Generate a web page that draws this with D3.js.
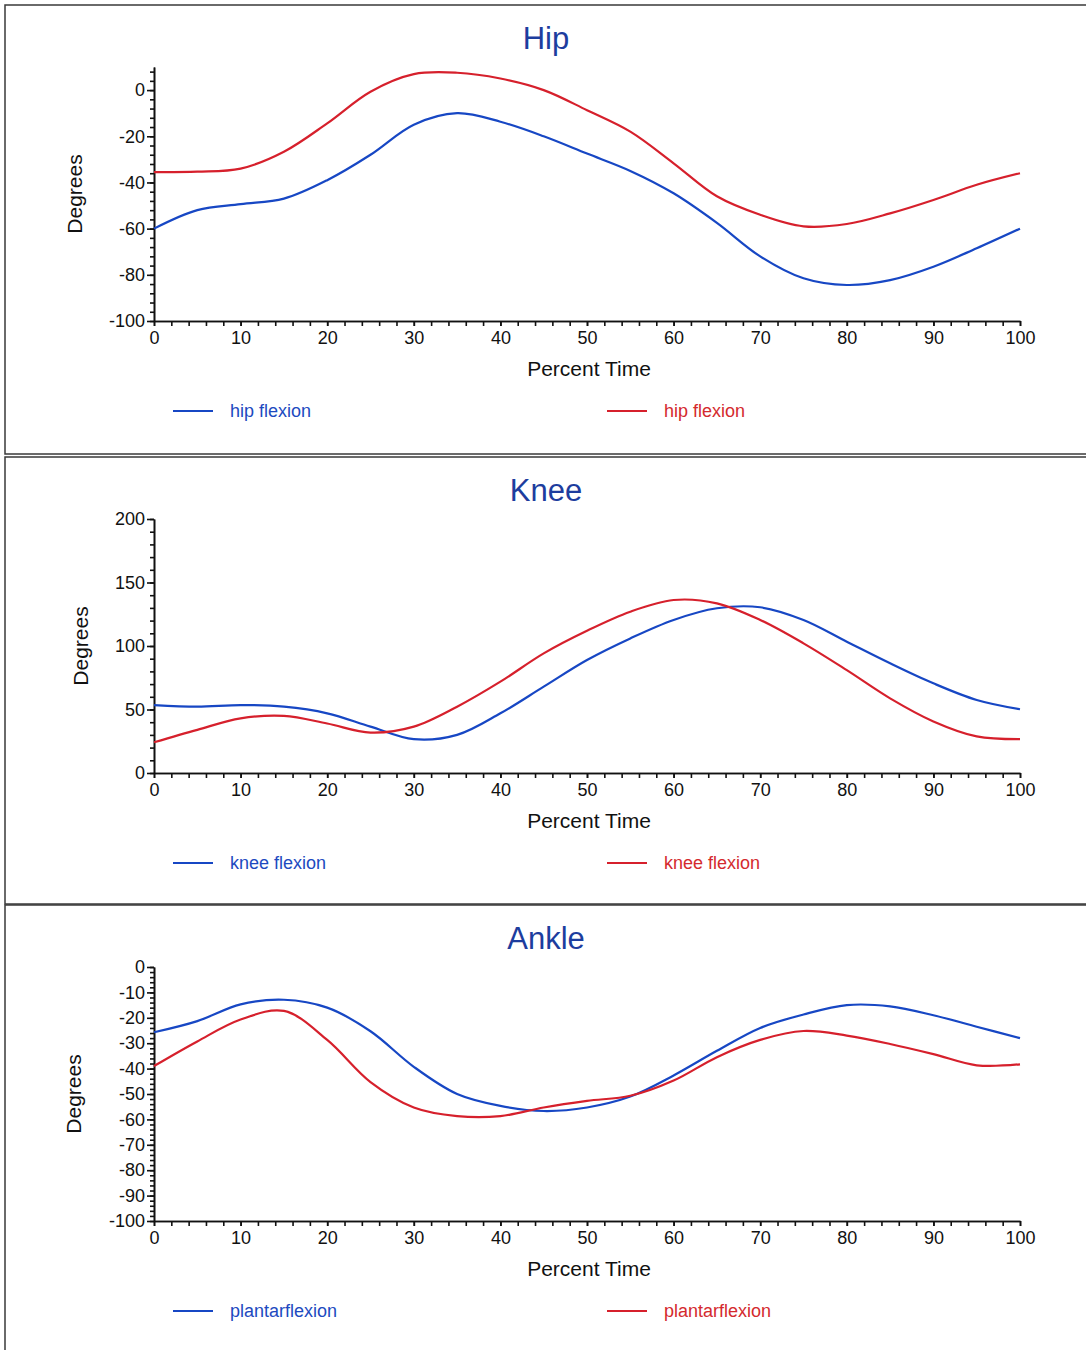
<!DOCTYPE html>
<html>
<head>
<meta charset="utf-8">
<script src="https://cdn.jsdelivr.net/npm/d3@7"></script>
<style>
  body { margin: 0; background: #fff; }
  svg { display: block; font-family: "Liberation Sans", Arial, sans-serif; }
</style>
</head>
<body>
<div id="graph-container"></div>
<script>
// percent of gait cycle, shared by every series
var pctTime = [0, 5, 10, 15, 20, 25, 30, 35, 40, 45, 50, 55, 60, 65, 70, 75, 80, 85, 90, 95, 100];
var xTicks = [0, 10, 20, 30, 40, 50, 60, 70, 80, 90, 100];

// Hip
var hipBlue = [-60, -52, -49.4, -47, -39, -28, -15, -10, -13.7, -20, -27.5, -35, -44.7, -57.5, -72, -81.5, -84.4, -82.3, -76.5, -68.5, -60];
var hipRed = [-35.5, -35.3, -34, -26.7, -14.4, -0.7, 6.9, 7.5, 5, 0, -8.7, -18, -31.7, -46, -54, -59, -58, -53.4, -47.6, -41, -36];
var hipTicks = [0, -20, -40, -60, -80, -100];

// Knee
var kneeBlue = [53.5, 52.2, 53.5, 52.2, 47, 36.5, 26.6, 30, 47, 68, 89, 106, 120.5, 129.7, 130.5, 120.5, 103.4, 86.4, 70.6, 57.5, 50.2];
var kneeRed = [24.2, 34, 43, 45, 39, 31.8, 36.5, 52.2, 71.9, 94.2, 112, 127, 136.2, 133.6, 120.5, 102.1, 81, 58.8, 40.6, 28.8, 26.6];
var kneeTicks = [0, 50, 100, 150, 200];

// Ankle
var ankleBlue = [-25.7, -21.3, -14.7, -12.9, -16, -25.3, -39.3, -50, -54.7, -56.7, -55.3, -51, -42.7, -33, -24, -18.7, -15, -15.5, -19, -23.5, -28];
var ankleRed = [-39, -29.3, -20.7, -17.3, -28.7, -45.3, -55.3, -58.7, -58.7, -55.3, -52.7, -50.7, -44.7, -35.5, -28.7, -25.2, -27, -30.3, -34.3, -38.7, -38.3];
var ankleTicks = [0, -10, -20, -30, -40, -50, -60, -70, -80, -90, -100];

var blue = "#1747c4", red = "#d6202c";

var panels = [
  {title: "Hip", top: 6, height: 449, domain: [-100, 10], ticks: hipTicks, minor: 4,
   blue: hipBlue, red: hipRed, legend: "hip flexion", labelX: 75},
  {title: "Knee", top: 458, height: 447, domain: [0, 200], ticks: kneeTicks, minor: 10,
   blue: kneeBlue, red: kneeRed, legend: "knee flexion", labelX: 81},
  {title: "Ankle", top: 906, height: 460, domain: [-100, 0], ticks: ankleTicks, minor: 2,
   blue: ankleBlue, red: ankleRed, legend: "plantarflexion", labelX: 74}
];

var width = 1086, height = 1350;
var plotTop = 61, plotBottom = 315;

// plain hyphen for negatives, like the original
var fmt = function(d) { return String(d); };

var svg = d3.select("#graph-container")
  .append("svg")
    .attr("width", width)
    .attr("height", height);

var x = d3.scaleLinear().domain([0, 100]).range([154, 1020]);

panels.forEach(function(p) {
  var g = svg.append("g").attr("transform", `translate(0,${p.top})`);

  // panel frame
  g.append("rect")
    .attr("x", 5).attr("y", -1)
    .attr("width", 1100).attr("height", p.height)
    .attr("fill", "none")
    .attr("stroke", "#3a3a3a")
    .attr("stroke-width", 1.5);

  // title
  g.append("text")
    .attr("x", 546).attr("y", 43)
    .attr("text-anchor", "middle")
    .style("font-size", "31px")
    .attr("fill", "#1d3d9e")
    .text(p.title);

  var y = d3.scaleLinear().domain(p.domain).range([plotBottom, plotTop]);

  // minor y ticks
  g.append("g")
    .attr("transform", `translate(${x(0)},0)`)
    .call(d3.axisLeft(y)
      .tickValues(d3.range(p.domain[0], p.domain[1] + 0.01, p.minor))
      .tickSize(4).tickSizeOuter(0).tickFormat(""))
    .call(function(a) { a.selectAll("line, path").attr("stroke", "#111").attr("stroke-width", 1.6); });

  // major y ticks
  g.append("g")
    .attr("transform", `translate(${x(0)},0)`)
    .call(d3.axisLeft(y).tickValues(p.ticks).tickSize(7).tickSizeOuter(0).tickPadding(2).tickFormat(fmt))
    .call(function(a) {
      a.selectAll("line, path").attr("stroke", "#111").attr("stroke-width", 1.6);
      a.selectAll("text").style("font-size", "18px").attr("fill", "#111").attr("font-family", null);
    });

  // minor x ticks
  g.append("g")
    .attr("transform", `translate(0,${plotBottom})`)
    .call(d3.axisBottom(x).tickValues(d3.range(0, 100.01, 2))
      .tickSize(5).tickSizeOuter(0).tickFormat(""))
    .call(function(a) { a.selectAll("line, path").attr("stroke", "#111").attr("stroke-width", 1.6); });

  // major x ticks
  g.append("g")
    .attr("transform", `translate(0,${plotBottom})`)
    .call(d3.axisBottom(x).tickValues(xTicks).tickSize(5).tickSizeOuter(0).tickPadding(5).tickFormat(fmt))
    .call(function(a) {
      a.selectAll("line, path").attr("stroke", "#111").attr("stroke-width", 1.6);
      a.selectAll("text").style("font-size", "18px").attr("fill", "#111").attr("font-family", null);
    });

  // axis labels
  g.append("text")
    .attr("x", 589).attr("y", plotBottom + 55)
    .attr("text-anchor", "middle")
    .style("font-size", "21px")
    .attr("fill", "#111")
    .text("Percent Time");

  g.append("text")
    .attr("transform", `translate(${p.labelX},${(plotTop + plotBottom) / 2}) rotate(-90)`)
    .attr("text-anchor", "middle")
    .attr("dy", "0.35em")
    .style("font-size", "21px")
    .attr("fill", "#111")
    .text("Degrees");

  // curves
  var line = d3.line()
    .x(function(d, i) { return x(pctTime[i]); })
    .y(function(d) { return y(d); })
    .curve(d3.curveCatmullRom.alpha(0.5));

  g.append("path")
    .datum(p.blue)
    .attr("fill", "none")
    .attr("stroke", blue)
    .attr("stroke-width", 2.2)
    .attr("d", line);

  g.append("path")
    .datum(p.red)
    .attr("fill", "none")
    .attr("stroke", red)
    .attr("stroke-width", 2.2)
    .attr("d", line);

  // legend
  var legY = plotBottom + 90;
  [{c: blue, tc: "#1d4abf", x0: 173}, {c: red, tc: "#d42a2e", x0: 607}].forEach(function(l) {
    g.append("line")
      .attr("x1", l.x0).attr("x2", l.x0 + 40)
      .attr("y1", legY).attr("y2", legY)
      .attr("stroke", l.c)
      .attr("stroke-width", 2);
    g.append("text")
      .attr("x", l.x0 + 57).attr("y", legY)
      .attr("dy", "0.35em")
      .style("font-size", "18px")
      .attr("fill", l.tc)
      .text(p.legend);
  });
});
</script>
</body>
</html>
